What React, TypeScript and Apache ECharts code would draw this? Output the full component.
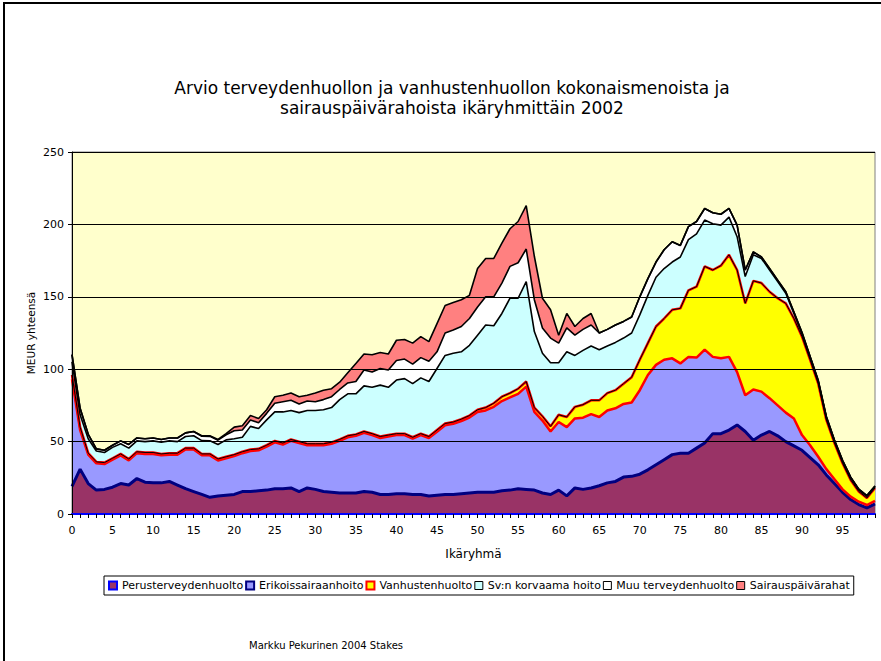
import React, { useEffect, useRef } from "react";
import * as echarts from "echarts";

// Age groups 0..99 (categories)
const AGES: string[] = Array.from({ length: 100 }, (_, i) => String(i));

const SERIES_NAMES = [
  "Perusterveydenhuolto",
  "Erikoissairaanhoito",
  "Vanhustenhuolto",
  "Sv:n korvaama hoito",
  "Muu terveydenhuolto",
  "Sairauspäivärahat",
];

// MEUR per age group
const PERUS = [
  19, 31, 21, 16.5, 17, 18.5, 21, 20, 24.5, 22,
  21.5, 21.5, 22.5, 20, 17.5, 15.5, 13.5, 11.5, 12.5, 13,
  13.5, 15.5, 15.5, 16, 16.5, 17.5, 17.5, 18, 15.5, 18,
  17, 15.5, 15, 14.5, 14.5, 14.5, 15.5, 15, 13.5, 13.5,
  14, 14, 13.5, 13.5, 12.5, 13, 13.5, 13.5, 14, 14.5,
  15, 15, 15, 16, 16.5, 17.5, 17, 16.5, 14.5, 13.5,
  16.5, 12.5, 18, 17, 18, 19.5, 21.5, 22.5, 25.5, 26,
  27.5, 30.5, 34, 37.5, 41, 42, 42, 45.5, 49, 55.5,
  55.5, 58, 61.5, 57, 51, 54.5, 57, 54, 50, 47,
  44, 39, 34, 27, 21, 15, 10, 6.5, 4.2, 7,
];
const ERIKOIS = [
  74, 27, 20, 18.5, 17.5, 19, 19.5, 17, 17.5, 19.5,
  20, 19, 18.5, 21, 27, 29, 27, 29, 24.5, 25.5,
  26.5, 26.5, 28, 28, 30, 32, 30.5, 32.5, 33.5, 29.5,
  30.5, 32, 33.5, 36, 38.5, 39.5, 40.5, 39.5, 39, 40,
  40.5, 40.5, 38.5, 41, 40, 43.8, 47.8, 48.8, 50.2, 52.1,
  55.5, 56.5, 59, 62, 64, 65.5, 71, 54, 50, 43.5,
  47, 47.5, 48, 49.5, 51, 47.5, 50, 50.5, 50.5, 51,
  58, 65.5, 69, 69, 66.5, 62, 66.5, 62.5, 64.5, 53,
  52, 50.5, 36.5, 25, 35, 30, 23, 21, 20, 19,
  10.5, 8.5, 5.5, 4, 3, 2, 2, 2, 2, 2,
];
const VANHUS = [
  3, 2, 1, 1, 1, 1, 1, 1, 1, 1,
  1, 1, 1, 1, 1, 1, 1, 1, 1, 1,
  1, 1, 1, 1, 1, 1, 1, 1, 1, 1,
  1, 1, 1, 1, 1, 1, 1, 1, 1, 1,
  1, 1, 1, 1, 1, 1.2, 1.2, 1.2, 1.3, 1.4,
  1.5, 2, 2.5, 3, 3, 3.5, 3.5, 3, 3, 3.5,
  5, 7, 8, 9, 9.5, 11.5, 12, 12.5, 14, 17.5,
  21, 22, 26.5, 28.5, 33.5, 38, 46, 49, 57.5, 60,
  64, 70.5, 70.5, 63.5, 75, 75, 73.5, 74, 75.5, 69,
  68, 59, 50.5, 34, 25, 18, 11.5, 7, 4.8, 9,
];
const SV = [
  9, 8.5, 10, 7.5, 7, 7.5, 7, 7.5, 7.5, 7.5,
  8, 8, 8.5, 8, 8, 8.5, 9.2, 9.1, 10, 11.7,
  11, 10, 16, 14, 17.5, 20, 21.5, 20, 20, 23,
  23, 23.5, 24, 27.5, 29, 28, 31.5, 32, 35.5, 33,
  37, 38, 37, 38.5, 38, 42.5, 47, 47.5, 46.5, 48.5,
  51.5, 57, 53.5, 57.5, 65.5, 62.5, 69, 52.5, 43.5, 44,
  36, 45, 35.5, 37.5, 37.5, 35, 32.5, 33, 31.5, 30.5,
  31, 33, 34, 34.5, 33, 35.5, 35, 36.5, 32, 32,
  28, 26, 23, 18.5, 18, 17, 15, 11.5, 7, 3.5,
  2, 1.5, 1.5, 1.5, 1.5, 1.5, 1.5, 1.2, 1.2, 0.8,
];
const MUU = [
  5, 4.5, 3, 1.5, 1.5, 1.5, 2, 2.5, 2, 2,
  2, 2, 2, 2.5, 2.5, 3, 3, 3, 3, 3.5,
  5.5, 5, 4.5, 4, 4.5, 6, 7, 7, 6, 6.5,
  6, 7, 7.5, 7, 7.5, 8.5, 11, 10.5, 11.5, 12,
  13.5, 13.5, 13.5, 14, 14, 11.5, 15.5, 16, 17.5, 18.5,
  19.5, 19.5, 20, 21, 22, 24.5, 22.5, 22, 17.5, 17,
  13.5, 16.5, 14, 14.5, 14.5, 11.5, 11.5, 12, 11.5, 11,
  12.5, 11.5, 10.5, 13, 14, 8, 9, 8.5, 8, 7.5,
  7.5, 6, 8, 4.5, 2, 1, 1, 1, 1, 1,
  0.8, 0.8, 0.8, 0.8, 0.6, 0.6, 0.5, 0.5, 0.5, 0.5,
];
const SAIR = [
  0, 0, 0, 0, 0, 0, 0, 0, 0, 0,
  0, 0, 0, 0, 0, 0, 0.3, 0.4, 0.5, 0.8,
  2.5, 3, 3, 3, 2.5, 4.5, 4.5, 5, 5, 4,
  6, 6.5, 5.5, 5, 7, 12.5, 11, 12, 11, 11,
  14, 13.5, 14.5, 14.5, 13.5, 19.5, 19, 19, 18.5, 16,
  26.5, 26.5, 26.5, 27.5, 26, 28.5, 30, 30, 20.5, 19.5,
  5.5, 10, 6, 7.5, 8, 0, 0, 0, 0, 0,
  0, 0, 0, 0, 0, 0, 0, 0, 0, 0,
  0, 0, 0, 0, 0, 0, 0, 0, 0, 0,
  0, 0, 0, 0, 0, 0, 0, 0, 0, 0,
];

const Y_MIN = 0;
const Y_MAX = 250;
const Y_STEP = 50;

const FILLS = ["#993366", "#9999FF", "#FFFF00", "#CCFFFF", "#FFFFFF", "#FF8080"];
const BORDERS = ["#0000FF", "#000080", "#FF0000", "#000000", "#000000", "#000000"];
const LEGEND_BORDER_W = [2, 2, 2, 1, 1, 1];

const FONT = "DejaVu Sans";

export default function App() {
  const ref = useRef<HTMLDivElement>(null);

  useEffect(() => {
    if (!ref.current) return;
    const chart = echarts.init(ref.current, null, { renderer: "svg" });

    const values = [PERUS, ERIKOIS, VANHUS, SV, MUU, SAIR];
    // cumulative tops of each stacked layer
    const cum: number[][] = [];
    values.forEach((arr, k) => {
      cum.push(arr.map((v, i) => +(v + (k > 0 ? cum[k - 1][i] : 0)).toFixed(2)));
    });

    const areaSeries = values.map((arr, k) => ({
      name: SERIES_NAMES[k],
      type: "line",
      stack: "total",
      data: arr,
      symbol: "none",
      silent: true,
      lineStyle: { width: 0, color: FILLS[k] },
      itemStyle: { color: FILLS[k], borderColor: BORDERS[k] },
      areaStyle: { color: FILLS[k], opacity: 1 },
    }));

    const borderLine = (data: number[], color: string, width: number) => ({
      type: "line",
      data,
      symbol: "none",
      silent: true,
      lineStyle: { color, width },
      z: 3,
    });

    const borderSeries = [
      borderLine(cum[0], "#000080", 3),
      borderLine(cum[1], "#FF0000", 2.5),
      borderLine(cum[2], "#FF0000", 2.5),
      borderLine(cum[2], "#000000", 1),
      borderLine(cum[3], "#000000", 1.6),
      borderLine(cum[4], "#000000", 1.6),
      borderLine(cum[5], "#000000", 1.6),
    ];

    const option: any = {
      animation: false,
      backgroundColor: "#FFFFFF",
      textStyle: { fontFamily: FONT },
      grid: {
        left: 72,
        right: 6,
        top: 152,
        bottom: 147,
        show: true,
        backgroundColor: "#FFFFCC",
        borderColor: "#808080",
        borderWidth: 1,
      },
      legend: {
        data: SERIES_NAMES.map((n, k) => ({
          name: n,
          icon: "rect",
          itemStyle: { color: FILLS[k], borderColor: BORDERS[k], borderWidth: LEGEND_BORDER_W[k] },
        })),
        left: 104,
        top: 576,
        padding: [4, 4],
        itemGap: 2,
        itemWidth: 8,
        itemHeight: 8,
        borderColor: "#000",
        borderWidth: 1,
        backgroundColor: "#FFFFFF",
        selectedMode: false,
        textStyle: { fontFamily: FONT, fontSize: 11, color: "#000" },
      },
      xAxis: {
        type: "category",
        data: AGES,
        boundaryGap: false,
        z: 10,
        name: "Ikäryhmä",
        nameLocation: "middle",
        nameGap: 34,
        nameTextStyle: { fontFamily: FONT, fontSize: 12, color: "#000" },
        axisLine: { show: true, lineStyle: { color: "#0000FF", width: 2 } },
        axisTick: { show: true, interval: 0, length: 4, lineStyle: { color: "#000" } },
        axisLabel: { interval: 4, margin: 11, fontFamily: FONT, fontSize: 11, color: "#000" },
        splitLine: { show: false },
      },
      yAxis: {
        type: "value",
        min: Y_MIN,
        max: Y_MAX,
        interval: Y_STEP,
        z: 10,
        name: "MEUR yhteensä",
        nameLocation: "middle",
        nameRotate: 90,
        nameGap: 36,
        nameMoveOverlap: false,
        nameTextStyle: { fontFamily: FONT, fontSize: 10.5, color: "#000" },
        axisLine: { show: true, lineStyle: { color: "#000", width: 1 } },
        axisTick: { show: true, length: 4, lineStyle: { color: "#000" } },
        axisLabel: { margin: 8, fontFamily: FONT, fontSize: 11, color: "#000" },
        splitLine: { show: true, lineStyle: { color: "#000", width: 1 } },
      },
      graphic: [
        {
          type: "rect",
          shape: { x: 4, y: 3, width: 900, height: 700 },
          style: { fill: "none", stroke: "#000", lineWidth: 2 },
          silent: true,
        },
        {
          type: "text",
          x: 452,
          y: 88,
          style: {
            text: "Arvio terveydenhuollon ja vanhustenhuollon kokonaismenoista ja",
            font: `17px "${FONT}"`,
            fill: "#000",
            textAlign: "center",
            textVerticalAlign: "middle",
          },
        },
        {
          type: "text",
          x: 452,
          y: 108,
          style: {
            text: "sairauspäivärahoista ikäryhmittäin 2002",
            font: `17px "${FONT}"`,
            fill: "#000",
            textAlign: "center",
            textVerticalAlign: "middle",
          },
        },
        {
          type: "text",
          x: 249,
          y: 645,
          style: {
            text: "Markku Pekurinen 2004 Stakes",
            font: `10px "${FONT}"`,
            fill: "#000",
            textAlign: "left",
            textVerticalAlign: "middle",
          },
        },
      ],
      series: [...areaSeries, ...borderSeries],
    };

    chart.setOption(option);
    return () => chart.dispose();
  }, []);

  return (
    <div
      ref={ref}
      style={{ position: "absolute", left: 0, top: 0, width: 881, height: 661 }}
    />
  );
}
